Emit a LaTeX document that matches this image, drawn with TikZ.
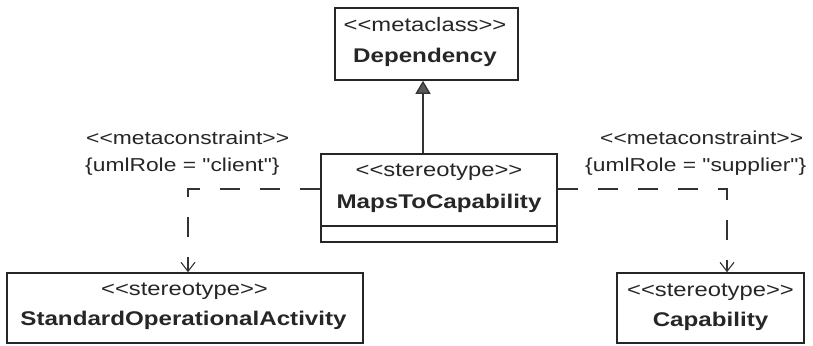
\documentclass[tikz,border=0pt]{standalone}
\usepackage{fontspec}
\setmainfont[FakeStretch=1.22,Ligatures=TeXOff]{Liberation Sans}
\usetikzlibrary{arrows.meta}
\begin{document}
\begin{tikzpicture}[x=1pt,y=-1pt,
  box/.style={draw=black!85,line width=1.6pt,inner sep=0pt,minimum width=#1},
  lbl/.style={font=\fontsize{19.5}{22}\selectfont,text=black!85,inner sep=0pt},
  cns/.style={font=\fontsize{18.7}{22}\selectfont,text=black!85,inner sep=0pt,anchor=west},
  bld/.style={font=\fontsize{19.8}{22}\selectfont\bfseries,text=black!85,inner sep=0pt},
  dep/.style={draw=black!80,line width=1.1pt,dash pattern=on 20pt off 20pt,-{Straight Barb[length=9pt,width=14pt,line width=1.1pt]}},
  inh/.style={draw=black!80,line width=1.3pt,-{Triangle[length=13pt,width=15pt,fill=black!65]}}]
\useasboundingbox (0,0) rectangle (813,345);
% boxes
\node[box=183pt,minimum height=72pt] (dep) at (426.5,44) {};
\node[box=236pt,minimum height=88pt] (maps) at (439,198) {};
\draw[draw=black!85,line width=1.6pt] (maps.west |- 0,226) -- (maps.east |- 0,226);
\node[box=356pt,minimum height=70pt] (soa) at (185,308) {};
\node[box=187pt,minimum height=70pt] (cap) at (710.5,308) {};
% texts
\node[lbl] (t1) at (425,25) {<<metaclass>>};
\node[bld] (t2) at (425,57) {Dependency};
\node[lbl] (t3) at (439,172) {<<stereotype>>};
\node[bld] (t4) at (439,203) {MapsToCapability};
\node[lbl] (t5) at (184.5,291) {<<stereotype>>};
\node[bld] (t6) at (183.5,320) {StandardOperationalActivity};
\node[lbl] (t7) at (710.5,292) {<<stereotype>>};
\node[bld] (t8) at (710.5,321) {Capability};
\node[cns] (c1) at (86,138) {<<metaconstraint>>};
\node[cns] (c2) at (85,167) {\{umlRole = "client"\}};
\node[cns] (c3) at (600,138) {<<metaconstraint>>};
\node[cns] (c4) at (585,167) {\{umlRole = "supplier"\}};
% connectors
\coordinate (mL) at (maps.west |- 0,189);
\coordinate (mR) at (maps.east |- 0,189);
\draw[dep] (mL) -| ([xshift=3pt]soa.north);
\draw[dep] (mR) -| ([xshift=16.5pt]cap.north);
\draw[inh] ([xshift=-16pt]maps.north) -- ([xshift=-3.5pt]dep.south);
\end{tikzpicture}
\end{document}
